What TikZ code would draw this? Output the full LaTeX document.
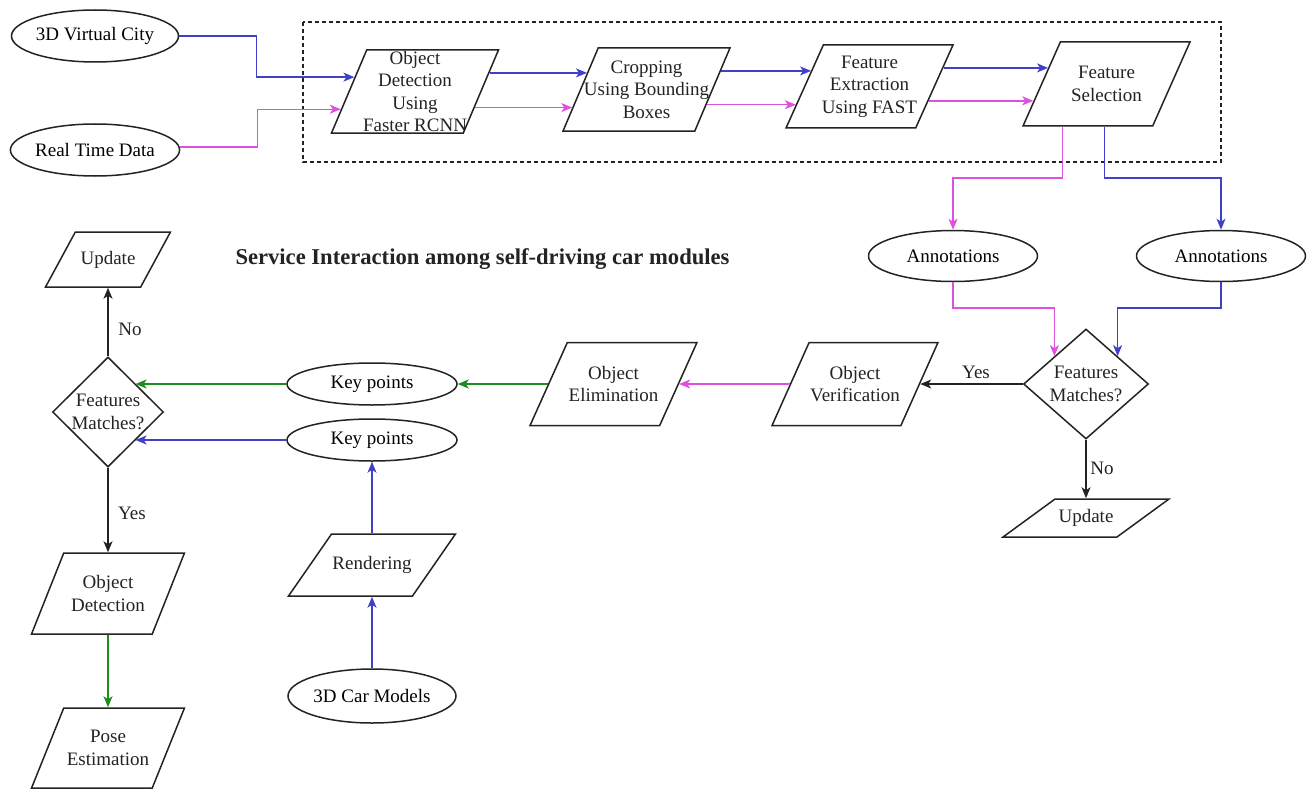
\documentclass[tikz,border=0pt]{standalone}
\usepackage{fontspec}
\setmainfont{Liberation Serif}
\usetikzlibrary{shapes.geometric,arrows.meta,calc}

\definecolor{flowblue}{RGB}{64,64,200}
\definecolor{flowpink}{RGB}{222,80,222}
\definecolor{flowgreen}{RGB}{30,140,30}
\definecolor{flowblack}{RGB}{35,35,35}

\begin{document}
\begin{tikzpicture}[x=1pt,y=-1pt,
  font=\fontsize{19}{22.5}\selectfont,
  shapeline/.style={draw=flowblack,line width=1.5pt},
  oval/.style={shapeline,ellipse,inner sep=0pt,minimum width=167pt,minimum height=52pt},
  para/.style={shapeline,trapezium,trapezium stretches=true,inner sep=2pt},
  choice/.style={shapeline,diamond,inner sep=2pt},
  txt/.style={align=center,inner sep=0pt,text=flowblack},
  link/.style={line width=1.3pt,-{Stealth[length=11pt,width=9pt,inset=3pt]}},
  bl/.style={link,draw=flowblue},
  pk/.style={link,draw=flowpink},
  gr/.style={link,draw=flowgreen},
  bk/.style={link,draw=flowblack},
  tag/.style={inner sep=0pt,text=flowblack}]

\useasboundingbox (0,0) rectangle (1308,789);

% dashed frame around the detection pipeline
\draw[flowblack,line width=1.2pt,dash pattern=on 4pt off 3pt] (303,22) rectangle (1221,162);

% sources
\node[oval] (vc) at (95,36) {3D Virtual City};
\node[oval] (rt) at (95,150) {Real Time Data};

% pipeline
\node[para,trapezium left angle=70,trapezium right angle=110,minimum width=167pt,minimum height=83pt,
  label={[txt]center:Object\\Detection\\Using\\Faster RCNN}] (od) at (415,91.5) {};
\node[para,trapezium left angle=70,trapezium right angle=110,minimum width=167pt,minimum height=83pt,
  label={[txt]center:Cropping\\Using Bounding\\Boxes}] (crop) at (646.5,89.5) {};
\node[para,trapezium left angle=68,trapezium right angle=112,minimum width=167pt,minimum height=83pt,
  label={[txt]center:Feature\\Extraction\\Using FAST}] (fe) at (869.5,86.5) {};
\node[para,trapezium left angle=68,trapezium right angle=112,minimum width=167pt,minimum height=84pt,
  label={[txt]center:Feature\\Selection}] (fs) at (1106.5,84) {};

% annotations
\node[oval,minimum width=169pt,minimum height=51pt] (ann1) at (953,256) {Annotations};
\node[oval,minimum width=169pt,minimum height=51pt] (ann2) at (1221,256) {Annotations};

% first decision
\node[choice,minimum width=125pt,minimum height=110pt,
  label={[txt]center:Features\\Matches?}] (d1) at (1086,384) {};
\node[para,trapezium left angle=50,trapezium right angle=130,minimum width=166pt,minimum height=38pt,
  label={[txt]center:Update}] (upr) at (1086,518) {};
\node[para,trapezium left angle=68,trapezium right angle=112,minimum width=166pt,minimum height=83pt,
  label={[txt]center:Object\\Verification}] (ov) at (855,384) {};
\node[para,trapezium left angle=68,trapezium right angle=112,minimum width=167pt,minimum height=83pt,
  label={[txt]center:Object\\Elimination}] (oe) at (613.5,384) {};

% key points and rendering
\node[oval,minimum width=170pt,minimum height=42pt] (kp1) at (372,384) {Key points};
\node[oval,minimum width=170pt,minimum height=42pt] (kp2) at (372,440) {Key points};
\node[para,trapezium left angle=62,trapezium right angle=118,minimum width=167pt,minimum height=62pt,
  label={[txt]center:Rendering}] (rend) at (372,565) {};
\node[oval,minimum width=168pt,minimum height=54pt] (car) at (372,696) {3D Car Models};

% second decision
\node[choice,minimum width=111pt,minimum height=110pt,
  label={[txt]center:Features\\Matches?}] (d2) at (108,412) {};
\node[para,trapezium left angle=65.5,trapezium right angle=114.5,minimum width=125pt,minimum height=55pt,
  label={[txt]center:Update}] (upl) at (108,259.5) {};
\node[para,trapezium left angle=70,trapezium right angle=110,minimum width=153pt,minimum height=81pt,
  label={[txt]center:Object\\Detection}] (objdet) at (108,593.5) {};
\node[para,trapezium left angle=70,trapezium right angle=110,minimum width=153pt,minimum height=80pt,
  label={[txt]center:Pose\\Estimation}] (pose) at (108,748) {};

% title
\node[font=\bfseries\fontsize{22.6}{26}\selectfont,inner sep=0pt,text=flowblack] (title) at (482.5,259) {Service Interaction among self-driving car modules};

% points on slanted borders
\coordinate (odin1) at ($(od.top left corner)!0.33!(od.bottom left corner)$);
\coordinate (odin2) at ($(od.top left corner)!0.71!(od.bottom left corner)$);
\coordinate (odout1) at ($(od.top right corner)!0.28!(od.bottom right corner)$);
\coordinate (odout2) at ($(od.top right corner)!0.69!(od.bottom right corner)$);
\coordinate (cropin1) at ($(crop.top left corner)!0.30!(crop.bottom left corner)$);
\coordinate (cropin2) at ($(crop.top left corner)!0.71!(crop.bottom left corner)$);
\coordinate (cropout1) at ($(crop.top right corner)!0.28!(crop.bottom right corner)$);
\coordinate (cropout2) at ($(crop.top right corner)!0.68!(crop.bottom right corner)$);
\coordinate (fein1) at ($(fe.top left corner)!0.31!(fe.bottom left corner)$);
\coordinate (fein2) at ($(fe.top left corner)!0.71!(fe.bottom left corner)$);
\coordinate (feout1) at ($(fe.top right corner)!0.28!(fe.bottom right corner)$);
\coordinate (feout2) at ($(fe.top right corner)!0.67!(fe.bottom right corner)$);
\coordinate (fsin1) at ($(fs.top left corner)!0.31!(fs.bottom left corner)$);
\coordinate (fsin2) at ($(fs.top left corner)!0.70!(fs.bottom left corner)$);
\coordinate (fsout1) at ($(fs.bottom left corner)!0.31!(fs.bottom right corner)$);
\coordinate (fsout2) at ($(fs.bottom left corner)!0.63!(fs.bottom right corner)$);
\coordinate (d1in1) at ($(d1.north)!0.5!(d1.west)$);
\coordinate (d1in2) at ($(d1.north)!0.5!(d1.east)$);
\coordinate (d2in1) at ($(d2.north)!0.49!(d2.east)$);
\coordinate (d2in2) at ($(d2.east)!0.51!(d2.south)$);
\coordinate (split) at (0,178);
\coordinate (merge) at (0,308);

% inputs into the pipeline
\draw[bl] (vc.east) -- ++(77,0) |- (odin1);
\draw[pk] (rt.east) ++(0,-3) -- ++(77,0) |- (odin2);

% pipeline connectors
\draw[bl] (odout1) -- (odout1 -| cropin1);
\draw[pk] (odout2) -- (odout2 -| cropin2);
\draw[bl] (cropout1) -- (cropout1 -| fein1);
\draw[pk] (cropout2) -- (cropout2 -| fein2);
\draw[bl] (feout1) -- (feout1 -| fsin1);
\draw[pk] (feout2) -- (feout2 -| fsin2);

% selection to annotations
\draw[pk] (fsout1) -- (fsout1 |- split) -| (ann1.north);
\draw[bl] (fsout2) -- (fsout2 |- split) -| (ann2.north);

% annotations to decision
\draw[pk] (ann1.south) -- (ann1.south |- merge) -| (d1in1);
\draw[bl] (ann2.south) -- (ann2.south |- merge) -| (d1in2);

% decision outcomes
\draw[bk] (d1.west) -- (ov.east);
\node[tag] (yes1) at (976,372) {Yes};
\draw[bk] (d1.south) -- (upr.north);
\node[tag] (no1) at (1102,468) {No};

\draw[pk] (ov.west) -- (oe.east);
\draw[gr] (oe.west) -- (kp1.east);

% key points into second decision
\draw[gr] (kp1.west) -- (kp1.west -| d2in1);
\draw[bl] (kp2.west) -- (kp2.west -| d2in2);
\draw[bl] (rend.north) -- (kp2.south);
\draw[bl] (car.north) -- (rend.south);

\draw[bk] (d2.north) -- (upl.south);
\node[tag] (no2) at (130,329) {No};
\draw[bk] (d2.south) -- (objdet.north);
\node[tag] (yes2) at (132,513) {Yes};
\draw[gr] (objdet.south) -- (pose.north);

\end{tikzpicture}
\end{document}
